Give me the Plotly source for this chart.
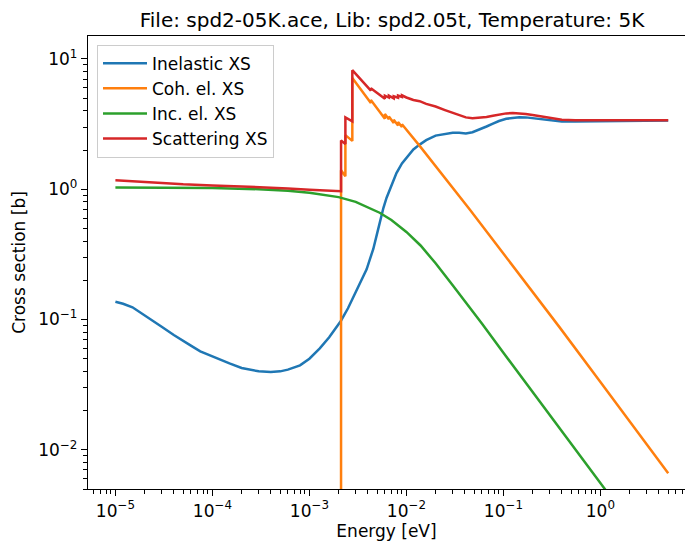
import plotly.graph_objects as go

# ---- data ----
E_inel = [1e-5, 1.2e-5, 1.5e-5, 2e-5, 2.5e-5, 3e-5, 4e-5, 5e-5, 6e-5, 7.5e-5, 1e-4,
          1.5e-4, 2e-4, 3e-4, 4e-4, 5e-4, 6e-4, 8e-4, 1e-3, 1.28e-3, 1.6e-3,
          2.1e-3, 2.5e-3, 2.83e-3, 3.3e-3, 3.89e-3, 4.2e-3, 4.55e-3, 5.0e-3, 5.33e-3,
          5.8e-3, 6.25e-3, 7.0e-3, 7.9e-3, 9.0e-3, 1.0e-2, 1.18e-2, 1.37e-2, 1.6e-2,
          2.0e-2, 2.5e-2, 3.0e-2, 3.5e-2, 4.1e-2, 4.8e-2, 5.7e-2, 6.7e-2, 7.8e-2,
          9e-2, 0.107, 0.125, 0.146, 0.17, 0.2, 0.25, 0.3, 0.4, 0.55, 0.7, 1.0,
          2.0, 5.0]
XS_inel = [0.137, 0.132, 0.124, 0.108, 0.097, 0.088, 0.076, 0.068, 0.063, 0.057, 0.052,
           0.046, 0.0425, 0.0400, 0.0395, 0.0400, 0.0412, 0.0445, 0.0500, 0.0600, 0.073,
           0.097, 0.122, 0.147, 0.19, 0.243, 0.29, 0.346, 0.46, 0.569,
           0.72, 0.86, 1.08, 1.33, 1.58, 1.75, 2.02, 2.2, 2.38,
           2.58, 2.67, 2.71, 2.71, 2.68, 2.74, 2.87, 3.03, 3.19,
           3.34, 3.47, 3.54, 3.57, 3.56, 3.52, 3.45, 3.38, 3.31, 3.31, 3.32, 3.34,
           3.36, 3.37]

E_coh = [1e-5, 2.12e-3, 2.12e-3, 2.35e-3, 2.35e-3, 2.77e-3, 2.77e-3, 4.3e-3, 4.3e-3,
         6.0e-3, 6.0e-3, 6.6e-3, 6.6e-3, 7.4e-3, 7.4e-3, 8.2e-3, 8.2e-3, 9.0e-3, 9.0e-3,
         1.37e-2, 4.5e-2, 0.1, 0.38, 1.0, 5.0]
XS_coh = [1e-6, 1e-6, 1.40, 1.26, 2.60, 2.35, 7.15, 4.60, 4.85,
          3.48, 3.78, 3.44, 3.62, 3.23, 3.42, 3.09, 3.28, 3.00, 3.15,
          2.15, 0.70, 0.322, 0.087, 0.0332, 0.0066]

E_inc = [1e-5, 3e-5, 1e-4, 3e-4, 6e-4, 1e-3, 1.5e-3, 2e-3, 3e-3, 4e-3, 5.3e-3, 7e-3,
         1e-2, 1.4e-2, 2e-2, 3e-2, 4e-2, 6e-2, 0.1, 0.3, 1.0, 1.2, 5.0]
XS_inc = [1.03, 1.025, 1.02, 1.0, 0.975, 0.94, 0.905, 0.87, 0.80, 0.73, 0.66, 0.58,
          0.47, 0.37, 0.27, 0.183, 0.139, 0.093, 0.0556, 0.0185, 0.0056, 0.0046, 0.00111]

E_scat = [1e-5, 2e-5, 3e-5, 5e-5, 1e-4, 3e-4, 6e-4, 1e-3, 1.5e-3, 2.12e-3, 2.12e-3,
          2.35e-3, 2.35e-3, 2.77e-3, 2.77e-3, 4.3e-3, 4.3e-3, 6.0e-3, 6.0e-3, 6.6e-3,
          6.6e-3, 7.4e-3, 7.4e-3, 8.2e-3, 8.2e-3, 9.0e-3, 9.0e-3, 1.0e-2, 1.18e-2,
          1.37e-2, 1.6e-2, 2.0e-2, 2.5e-2, 3.0e-2, 3.5e-2, 4.1e-2, 4.8e-2, 5.7e-2,
          6.7e-2, 7.8e-2, 9e-2, 0.107, 0.125, 0.146, 0.17, 0.2, 0.25, 0.3, 0.4, 0.55,
          0.7, 1.0, 2.0, 5.0]
XS_scat = [1.17, 1.135, 1.11, 1.09, 1.07, 1.04, 1.015, 0.99, 0.975, 0.965, 2.37,
           2.22, 3.56, 3.32, 8.2, 5.72, 5.97, 4.95, 5.22, 5.05,
           5.22, 4.98, 5.17, 5.04, 5.23, 5.10, 5.26, 5.06, 4.84,
           4.74, 4.52, 4.31, 4.05, 3.87, 3.70, 3.56, 3.50, 3.52,
           3.58, 3.67, 3.76, 3.82, 3.85, 3.83, 3.78, 3.71, 3.60, 3.51, 3.41, 3.38,
           3.375, 3.38, 3.38, 3.38]

names = ["Inelastic XS", "Coh. el. XS", "Inc. el. XS", "Scattering XS"]
colors = ["#1f77b4", "#ff7f0e", "#2ca02c", "#d62728"]

x_tick_vals = [1e-5, 1e-4, 1e-3, 1e-2, 1e-1, 1e0]
x_tick_text = ["10<sup>−5</sup>", "10<sup>−4</sup>", "10<sup>−3</sup>",
               "10<sup>−2</sup>", "10<sup>−1</sup>", "10<sup>0</sup>"]
y_tick_vals = [1e-2, 1e-1, 1e0, 1e1]
y_tick_text = ["10<sup>−2</sup>", "10<sup>−1</sup>", "10<sup>0</sup>", "10<sup>1</sup>"]

minor_vals = [m * 10.0 ** k for k in range(-6, 2) for m in range(2, 10)]

FONT = "DejaVu Sans"

fig = go.Figure()
series = [(E_inel, XS_inel), (E_coh, XS_coh), (E_inc, XS_inc), (E_scat, XS_scat)]
for (ex, ys), nm, col in zip(series, names, colors):
    fig.add_trace(go.Scatter(x=ex, y=ys, mode="lines", name=nm, legendgroup=nm,
                             line=dict(color=col, width=2.5)))

axis_common = dict(
    type="log", showgrid=False, zeroline=False, showline=True, linecolor="black",
    linewidth=1.3, ticks="outside", ticklen=6, tickwidth=1.3, tickcolor="black",
    tickfont=dict(family=FONT, size=17, color="black"), automargin=False,
    minor=dict(tickvals=minor_vals, ticks="outside", ticklen=3.5, tickwidth=1,
               tickcolor="black", showgrid=False),
)

fig.update_layout(
    width=685, height=545, autosize=False,
    margin=dict(l=88, r=0, t=36, b=56),
    plot_bgcolor="white", paper_bgcolor="white",
    font=dict(family=FONT, size=17, color="black"),
    title=dict(text="File: spd2-05K.ace, Lib: spd2.05t, Temperature: 5K",
               font=dict(family=FONT, size=20, color="black"),
               x=392 / 685, xref="container", xanchor="center",
               y=1 - 20 / 545, yref="container", yanchor="middle"),
    xaxis=dict(axis_common, range=[-5.2825, 0.8722], mirror=True,
               tickmode="array", tickvals=x_tick_vals, ticktext=x_tick_text,
               title=dict(text="Energy [eV]", font=dict(family=FONT, size=17, color="black"),
                          standoff=4)),
    yaxis=dict(axis_common, range=[-2.30103, 1.17609], mirror=False,
               tickmode="array", tickvals=y_tick_vals, ticktext=y_tick_text,
               title=dict(text="Cross section [b]", font=dict(family=FONT, size=17, color="black"),
                          standoff=8)),
    legend=dict(x=(97 - 88) / 597, y=1 - (45 - 36.3) / 453, xanchor="left", yanchor="top",
                bgcolor="rgba(255,255,255,0.8)", bordercolor="#cccccc", borderwidth=1,
                font=dict(family=FONT, size=17, color="black"), tracegroupgap=0,
                itemwidth=44),
    showlegend=True,
)

fig.write_html("out.html", config={"displayModeBar": False},
               post_script="document.body.style.margin='0';document.body.style.overflow='hidden';")
